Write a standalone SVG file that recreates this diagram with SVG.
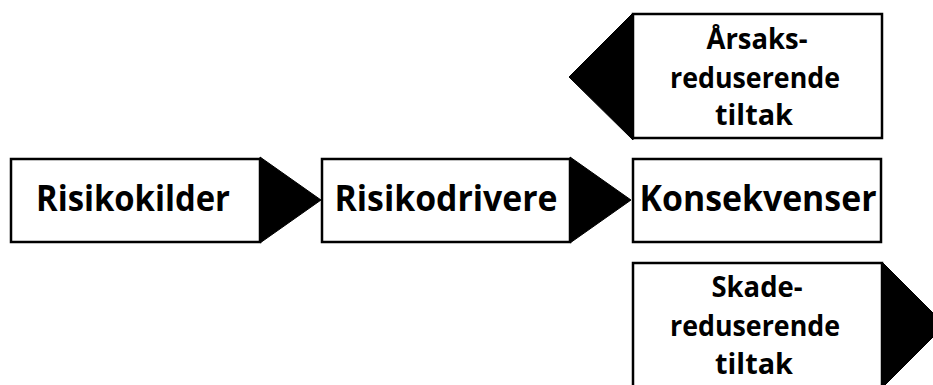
<svg xmlns="http://www.w3.org/2000/svg" width="933" height="385" viewBox="0 0 933 385">
<style>
.box{fill:#fff;stroke:#000;stroke-width:2.5}
.arr{fill:#000;stroke:#000;stroke-width:1}
.big{font-family:"Open Sans","Liberation Sans",sans-serif;font-weight:bold;font-size:36px;fill:#000;text-anchor:middle}
.sm{font-family:"Open Sans","Liberation Sans",sans-serif;font-weight:bold;font-size:29px;fill:#000;text-anchor:middle}
</style>
<rect width="933" height="385" fill="#fff"/>
<g id="connectors">
<polygon class="arr" points="260,157 321,200 260,243"/>
<polygon class="arr" points="570,157 631,200 570,243"/>
<polygon class="arr" points="633,13 569,77 633,140"/>
<polygon class="arr" points="882,262 945,325 882,388"/>
</g>
<g id="risikokilder">
<rect class="box" x="11" y="159" width="249" height="83"/>
<text class="big" x="133" y="211" textLength="194" lengthAdjust="spacingAndGlyphs">Risikokilder</text>
</g>
<g id="risikodrivere">
<rect class="box" x="322" y="159" width="248" height="83"/>
<text class="big" x="446" y="211" textLength="223" lengthAdjust="spacingAndGlyphs">Risikodrivere</text>
</g>
<g id="konsekvenser">
<rect class="box" x="633" y="159" width="248" height="83"/>
<text class="big" x="758" y="211" textLength="237" lengthAdjust="spacingAndGlyphs">Konsekvenser</text>
</g>
<g id="arsaksreduserende">
<rect class="box" x="633" y="14" width="249" height="124"/>
<text class="sm" x="757" y="49" textLength="101" lengthAdjust="spacingAndGlyphs">Årsaks-</text>
<text class="sm" x="755" y="88" textLength="170" lengthAdjust="spacingAndGlyphs">reduserende</text>
<text class="sm" x="754" y="125" textLength="78" lengthAdjust="spacingAndGlyphs">tiltak</text>
</g>
<g id="skadereduserende">
<rect class="box" x="633" y="263" width="249" height="124"/>
<text class="sm" x="757" y="297" textLength="91" lengthAdjust="spacingAndGlyphs">Skade-</text>
<text class="sm" x="755" y="336" textLength="170" lengthAdjust="spacingAndGlyphs">reduserende</text>
<text class="sm" x="754" y="374" textLength="78" lengthAdjust="spacingAndGlyphs">tiltak</text>
</g>
</svg>
